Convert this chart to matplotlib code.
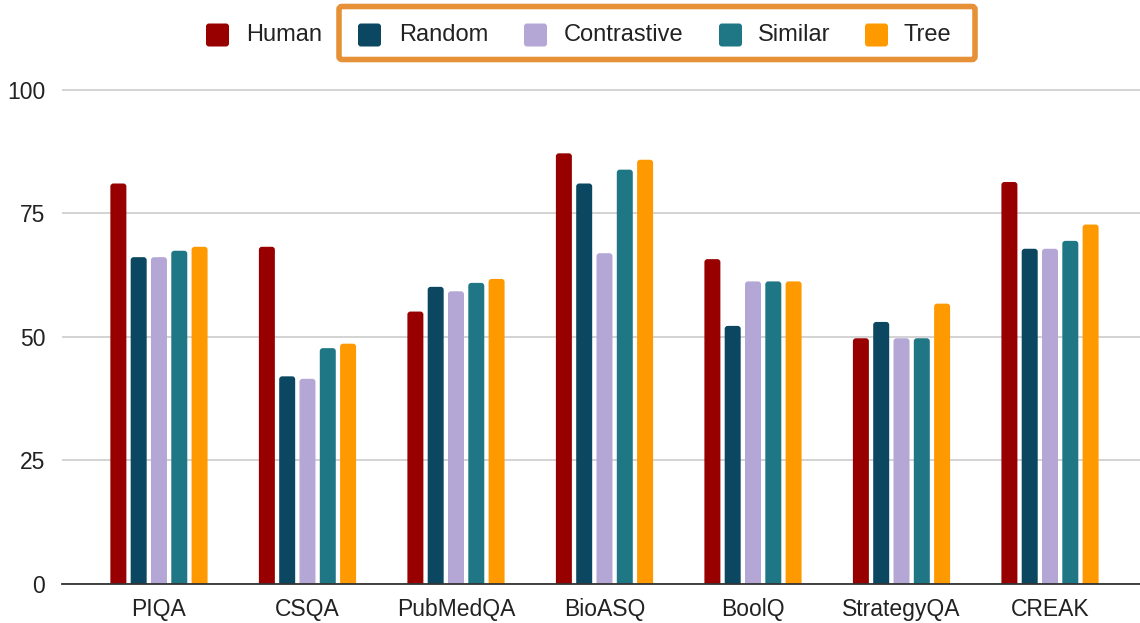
import matplotlib
matplotlib.use("Agg")
import matplotlib.pyplot as plt
from matplotlib.patches import FancyBboxPatch
from matplotlib.transforms import IdentityTransform
import numpy as np

plt.rcParams['font.family'] = ['Liberation Sans', 'DejaVu Sans']

categories = ["PIQA", "CSQA", "PubMedQA", "BioASQ", "BoolQ", "StrategyQA", "CREAK"]
series_names = ["Human", "Random", "Contrastive", "Similar", "Tree"]
human = [81.0, 68.2, 55.1, 87.1, 65.7, 49.7, 81.3]
random_sel = [66.1, 42.0, 60.1, 81.0, 52.2, 53.0, 67.8]
contrastive = [66.1, 41.5, 59.2, 66.9, 61.2, 49.7, 67.8]
similar = [67.4, 47.7, 60.9, 83.8, 61.2, 49.7, 69.4]
tree = [68.2, 48.6, 61.7, 85.8, 61.2, 56.7, 72.7]
y_ticks = [0, 25, 50, 75, 100]

colors = ["#980000", "#0b4760", "#b4a7d6", "#1f7786", "#ff9900"]
text_color = "#222222"

W, H, DPI = 1140, 623, 100
fig = plt.figure(figsize=(W / DPI, H / DPI), dpi=DPI)
ax = fig.add_axes([62 / W, (H - 584) / H, (1140 - 62) / W, (584 - 84.6) / H])

all_series = [human, random_sel, contrastive, similar, tree]
x = np.arange(len(categories))
pitch = 0.1367
width = 0.1077
px_x = 148.5          # pixels per category unit
px_y = 4.945          # pixels per y unit
r = 3.0 / px_x        # corner radius in x data units
aspect = px_x / px_y

for i, (vals, col) in enumerate(zip(all_series, colors)):
    bars = ax.bar(x + (i - 2) * pitch, vals, width=width, color=col)
    for b in bars:
        b.set_visible(False)
        ext = r * aspect
        fb = FancyBboxPatch((b.get_x(), b.get_y() - ext), b.get_width(), b.get_height() + ext,
                            boxstyle=f"round,pad=0,rounding_size={r}",
                            mutation_aspect=aspect, facecolor=col, edgecolor="none",
                            zorder=3)
        ax.add_patch(fb)

ax.set_xlim(-0.653, 6.606)
ax.set_ylim(0, 101)
ax.set_yticks(y_ticks)
ax.set_yticklabels([str(v) for v in y_ticks])
ax.set_xticks(x)
ax.set_xticklabels(categories)
ax.tick_params(axis='both', length=0, labelsize=16.5, colors=text_color)
ax.tick_params(axis='x', pad=10)
ax.tick_params(axis='y', pad=12)
ax.grid(axis='y', color="#cccccc", linewidth=1.2, zorder=0)
ax.set_axisbelow(True)
for s in ["top", "right", "left"]:
    ax.spines[s].set_visible(False)
ax.spines["bottom"].set_color("#333333")
ax.spines["bottom"].set_linewidth(1.3)
ax.spines["bottom"].set_zorder(4)

# Legend drawn in pixel coordinates (origin at bottom-left)
ident = IdentityTransform()
leg_y = H - 35
sq = 23
square_x = [206, 358, 524, 719, 865]
text_x = [246, 399, 564, 758, 904]
for name, col, sx, tx in zip(series_names, colors, square_x, text_x):
    fig.patches.append(FancyBboxPatch((sx, leg_y - sq / 2), sq, sq,
                                      boxstyle="round,pad=0,rounding_size=3",
                                      facecolor=col, edgecolor="none",
                                      transform=ident, figure=fig))
    fig.text(tx, leg_y, name, transform=ident, fontsize=17, color=text_color,
             va="center", ha="left")

# Highlight frame around the automatic selection strategies
fig.patches.append(FancyBboxPatch((339, H - 59.5), 636, 53,
                                  boxstyle="round,pad=0,rounding_size=3",
                                  facecolor="none", edgecolor="#e69138",
                                  linewidth=4, transform=ident, figure=fig))

fig.savefig("out.png", dpi=DPI)
